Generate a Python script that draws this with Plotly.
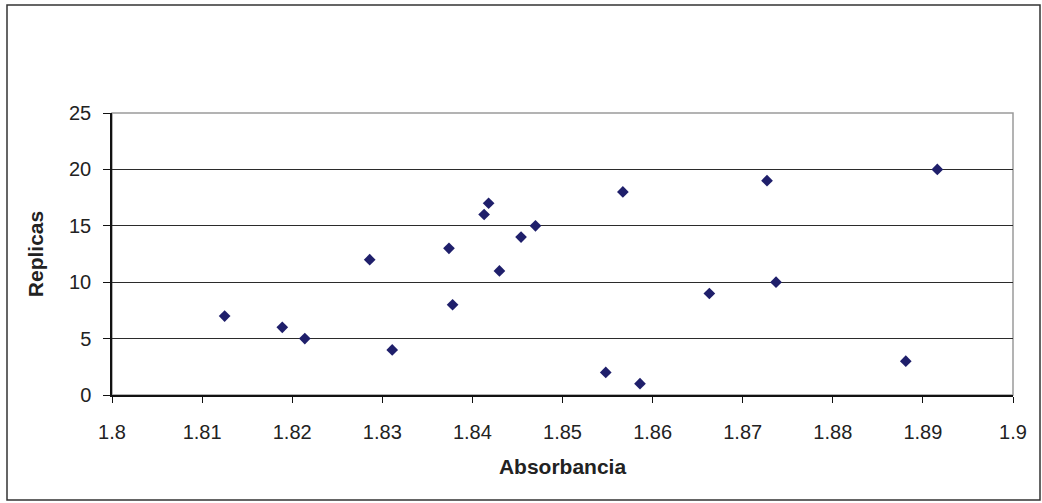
import plotly.graph_objects as go

absorbancia = [1.8125, 1.8189, 1.8214, 1.8286, 1.8311, 1.8374, 1.8378, 1.8413,
               1.8418, 1.8430, 1.8454, 1.8470, 1.8548, 1.8567, 1.8586, 1.8663,
               1.8727, 1.8737, 1.8881, 1.8916]
replicas = [7, 6, 5, 12, 4, 13, 8, 16, 17, 11, 14, 15, 2, 18, 1, 9, 19, 10, 3, 20]

x_ticks = [1.8, 1.81, 1.82, 1.83, 1.84, 1.85, 1.86, 1.87, 1.88, 1.89, 1.9]
x_tick_labels = ["1.8", "1.81", "1.82", "1.83", "1.84", "1.85", "1.86", "1.87", "1.88", "1.89", "1.9"]
y_ticks = [0, 5, 10, 15, 20, 25]
y_tick_labels = ["0", "5", "10", "15", "20", "25"]

W, H = 1042, 503
L, R, T, B = 112, 29, 113, 108
pw, ph = W - L - R, H - T - B

fig = go.Figure()
fig.add_trace(go.Scatter(
    x=absorbancia, y=replicas, mode="markers",
    marker=dict(symbol="diamond", size=9, color="#1f1f6b", line=dict(width=0)),
    showlegend=False, cliponaxis=False,
))

fam = "Liberation Sans, Arial, sans-serif"
txt = "#222"

fig.update_layout(
    width=W, height=H,
    margin=dict(l=L, r=R, t=T, b=B),
    paper_bgcolor="white", plot_bgcolor="white",
    font=dict(family=fam, size=20, color=txt),
    xaxis=dict(
        range=[1.8, 1.9], tickvals=x_ticks, ticktext=x_tick_labels,
        showgrid=False, zeroline=False,
        showline=True, linecolor="#111", linewidth=1.5,
        ticks="outside", ticklen=6, tickwidth=1.3, tickcolor="#111",
        ticklabelstandoff=12,
        title=dict(text="<b>Absorbancia</b>", font=dict(family=fam, size=21, color=txt), standoff=18),
        tickfont=dict(family=fam, size=20, color=txt),
    ),
    yaxis=dict(
        range=[0, 25], tickvals=y_ticks, ticktext=y_tick_labels,
        showgrid=True, gridcolor="#2b2b2b", gridwidth=1.3, zeroline=False,
        showline=True, linecolor="#111", linewidth=1.5,
        ticks="outside", ticklen=7, tickwidth=1.3, tickcolor="#111",
        ticklabelstandoff=8,
        title=dict(text="<b>Replicas</b>", font=dict(family=fam, size=21, color=txt), standoff=20),
        tickfont=dict(family=fam, size=20, color=txt),
    ),
    shapes=[
        dict(type="rect", xref="paper", yref="paper", x0=0, y0=0, x1=1, y1=1,
             line=dict(color="#9a9a9a", width=1.5), layer="below"),
        dict(type="rect", xref="paper", yref="paper",
             x0=(7 - L) / pw, x1=(1040 - L) / pw,
             y0=(H - B - 500) / ph, y1=(H - B - 5) / ph,
             line=dict(color="#333", width=1.5)),
    ],
)

fig.write_html("out.html")
